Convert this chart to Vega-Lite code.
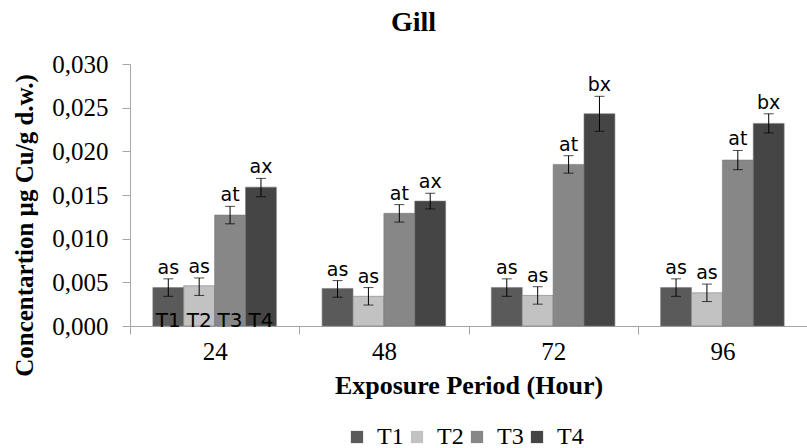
{
  "$schema": "https://vega.github.io/schema/vega-lite/v6.json",
  "width": 677,
  "height": 262,
  "autosize": "none",
  "padding": {"left": 130, "top": 64, "right": 0, "bottom": 122},
  "background": "white",
  "title": {"text": "Gill", "font": "Liberation Serif", "fontSize": 28, "fontWeight": "bold", "color": "black", "offset": 15, "dx": -55},
  "config": {"view": {"stroke": null}},
  "data": {"values": [
    {"group": "24", "series": "T1", "value": 0.0044, "lo": 0.0034, "hi": 0.0054, "label": "as", "inner": "T1"},
    {"group": "24", "series": "T2", "value": 0.0046, "lo": 0.0035, "hi": 0.0055, "label": "as", "inner": "T2"},
    {"group": "24", "series": "T3", "value": 0.0127, "lo": 0.0117, "hi": 0.0137, "label": "at", "inner": "T3"},
    {"group": "24", "series": "T4", "value": 0.0159, "lo": 0.0148, "hi": 0.0169, "label": "ax", "inner": "T4"},
    {"group": "48", "series": "T1", "value": 0.0043, "lo": 0.0033, "hi": 0.0052, "label": "as", "inner": ""},
    {"group": "48", "series": "T2", "value": 0.0034, "lo": 0.0024, "hi": 0.0044, "label": "as", "inner": ""},
    {"group": "48", "series": "T3", "value": 0.0129, "lo": 0.0119, "hi": 0.0139, "label": "at", "inner": ""},
    {"group": "48", "series": "T4", "value": 0.0143, "lo": 0.0134, "hi": 0.0152, "label": "ax", "inner": ""},
    {"group": "72", "series": "T1", "value": 0.0044, "lo": 0.0034, "hi": 0.0054, "label": "as", "inner": ""},
    {"group": "72", "series": "T2", "value": 0.0035, "lo": 0.0025, "hi": 0.0045, "label": "as", "inner": ""},
    {"group": "72", "series": "T3", "value": 0.0185, "lo": 0.0175, "hi": 0.0195, "label": "at", "inner": ""},
    {"group": "72", "series": "T4", "value": 0.0243, "lo": 0.0223, "hi": 0.0263, "label": "bx", "inner": ""},
    {"group": "96", "series": "T1", "value": 0.0044, "lo": 0.0034, "hi": 0.0054, "label": "as", "inner": ""},
    {"group": "96", "series": "T2", "value": 0.0038, "lo": 0.0028, "hi": 0.0048, "label": "as", "inner": ""},
    {"group": "96", "series": "T3", "value": 0.0190, "lo": 0.0179, "hi": 0.0201, "label": "at", "inner": ""},
    {"group": "96", "series": "T4", "value": 0.0232, "lo": 0.0221, "hi": 0.0243, "label": "bx", "inner": ""}
  ]},
  "encoding": {
    "x": {"field": "group", "type": "nominal", "sort": null,
      "scale": {"paddingInner": 0.27, "paddingOuter": 0.135},
      "axis": {"title": "Exposure Period (Hour)", "titleFont": "Liberation Serif", "titleFontSize": 26, "titleFontWeight": "bold", "titleColor": "black", "titlePadding": 8,
        "labelFont": "Liberation Serif", "labelFontSize": 25, "labelColor": "black", "labelAngle": 0, "labelPadding": 5,
        "domainColor": "#a6a6a6", "tickColor": "#a6a6a6", "tickSize": 8, "tickOffset": -84.6, "labelOffset": 84.6}},
    "xOffset": {"field": "series", "type": "nominal", "scale": {"paddingInner": 0, "paddingOuter": 0}}
  },
  "layer": [
    {
      "mark": {"type": "bar", "stroke": "#7a7a7a", "strokeWidth": 0.6},
      "encoding": {
        "y": {"field": "value", "type": "quantitative", "scale": {"domain": [0, 0.03], "nice": false},
          "axis": {"title": "Concentartion µg Cu/g d.w.)", "titleFont": "Liberation Serif", "titleFontSize": 25, "titleFontWeight": "bold", "titleColor": "black", "titleY": 161, "titleX": -93,
            "values": [0, 0.005, 0.01, 0.015, 0.02, 0.025, 0.03],
            "labelExpr": "replace(format(datum.value, '.3f'), '.', ',')",
            "labelFont": "Liberation Serif", "labelFontSize": 25, "labelColor": "black", "labelPadding": 14,
            "grid": false, "domainColor": "#a6a6a6", "tickColor": "#a6a6a6", "tickSize": 8}},
        "color": {"field": "series", "type": "nominal",
          "scale": {"domain": ["T1", "T2", "T3", "T4"], "range": ["#5a5a5a", "#c2c2c2", "#878787", "#454545"]},
          "legend": {"title": null, "orient": "none", "legendX": 215, "legendY": 361, "direction": "horizontal", "symbolType": "square", "symbolSize": 150, "symbolStrokeWidth": 0,
            "labelFont": "Liberation Serif", "labelFontSize": 24, "labelColor": "black", "labelOffset": 8, "columnPadding": 1}}
      }
    },
    {
      "mark": {"type": "rule", "color": "black", "strokeWidth": 1},
      "encoding": {"y": {"field": "lo", "type": "quantitative"}, "y2": {"field": "hi"}}
    },
    {
      "mark": {"type": "tick", "color": "black", "thickness": 1, "size": 10, "orient": "horizontal"},
      "encoding": {"y": {"field": "lo", "type": "quantitative"}}
    },
    {
      "mark": {"type": "tick", "color": "black", "thickness": 1, "size": 10, "orient": "horizontal"},
      "encoding": {"y": {"field": "hi", "type": "quantitative"}}
    },
    {
      "mark": {"type": "text", "font": "DejaVu Sans", "fontSize": 19, "color": "black", "baseline": "alphabetic", "dy": -5},
      "encoding": {"y": {"field": "hi", "type": "quantitative"}, "text": {"field": "label"}}
    },
    {
      "mark": {"type": "text", "font": "DejaVu Sans", "fontSize": 20, "color": "black", "baseline": "alphabetic", "dy": 1},
      "encoding": {"y": {"datum": 0, "type": "quantitative"}, "text": {"field": "inner"}}
    }
  ]
}
